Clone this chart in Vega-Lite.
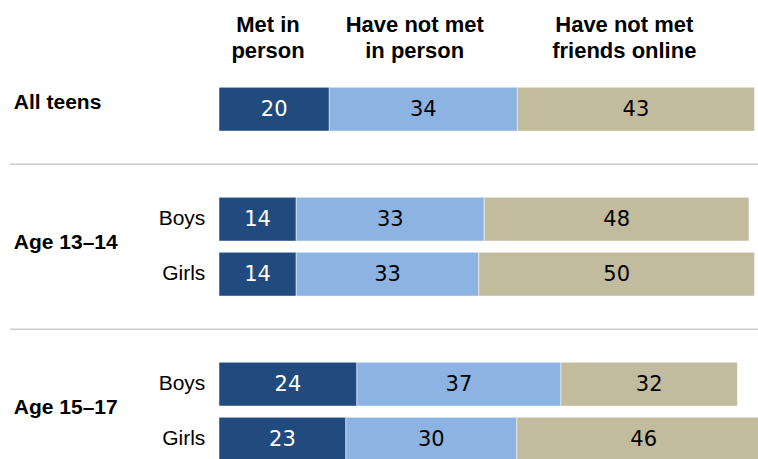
{
  "$schema": "https://vega.github.io/schema/vega-lite/v6.json",
  "autosize": "none",
  "width": 551.5,
  "height": 385,
  "padding": {"left": 219, "top": 81.7, "right": 0, "bottom": 0},
  "background": "white",
  "config": {"view": {"stroke": null}, "font": "Liberation Sans"},
  "datasets": {
    "bars": [
      {"row": "All teens", "group": "All teens", "sub": "", "category": "Met in person", "value": 20, "label": 20},
      {"row": "All teens", "group": "All teens", "sub": "", "category": "Have not met in person", "value": 34.1, "label": 34},
      {"row": "All teens", "group": "All teens", "sub": "", "category": "Have not met friends online", "value": 43, "label": 43},
      {"row": "Age 13–14 Boys", "group": "Age 13–14", "sub": "Boys", "category": "Met in person", "value": 14, "label": 14},
      {"row": "Age 13–14 Boys", "group": "Age 13–14", "sub": "Boys", "category": "Have not met in person", "value": 34.1, "label": 33},
      {"row": "Age 13–14 Boys", "group": "Age 13–14", "sub": "Boys", "category": "Have not met friends online", "value": 48, "label": 48},
      {"row": "Age 13–14 Girls", "group": "Age 13–14", "sub": "Girls", "category": "Met in person", "value": 14, "label": 14},
      {"row": "Age 13–14 Girls", "group": "Age 13–14", "sub": "Girls", "category": "Have not met in person", "value": 33.1, "label": 33},
      {"row": "Age 13–14 Girls", "group": "Age 13–14", "sub": "Girls", "category": "Have not met friends online", "value": 50, "label": 50},
      {"row": "Age 15–17 Boys", "group": "Age 15–17", "sub": "Boys", "category": "Met in person", "value": 25, "label": 24},
      {"row": "Age 15–17 Boys", "group": "Age 15–17", "sub": "Boys", "category": "Have not met in person", "value": 37, "label": 37},
      {"row": "Age 15–17 Boys", "group": "Age 15–17", "sub": "Boys", "category": "Have not met friends online", "value": 32, "label": 32},
      {"row": "Age 15–17 Girls", "group": "Age 15–17", "sub": "Girls", "category": "Met in person", "value": 23, "label": 23},
      {"row": "Age 15–17 Girls", "group": "Age 15–17", "sub": "Girls", "category": "Have not met in person", "value": 31, "label": 30},
      {"row": "Age 15–17 Girls", "group": "Age 15–17", "sub": "Girls", "category": "Have not met friends online", "value": 46, "label": 46}
    ],
    "separators": [{"row": "gap1"}, {"row": "gap2"}]
  },
  "encoding": {
    "y": {
      "field": "row",
      "type": "nominal",
      "scale": {
        "domain": ["All teens", "gap1", "Age 13–14 Boys", "Age 13–14 Girls", "gap2", "Age 15–17 Boys", "Age 15–17 Girls"],
        "paddingInner": 0.205,
        "paddingOuter": 0.1025
      },
      "axis": null
    }
  },
  "layer": [
    {
      "data": {"name": "separators"},
      "mark": {"type": "rule", "color": "#cccccc", "strokeWidth": 1.5},
      "encoding": {
        "x": {"datum": -37.9, "type": "quantitative", "scale": {"domain": [0, 100], "nice": false}},
        "x2": {"datum": 100}
      }
    },
    {
      "data": {"name": "bars"},
      "mark": {"type": "bar", "stroke": "#ffffff", "strokeWidth": 0.5},
      "encoding": {
        "x": {
          "field": "value",
          "type": "quantitative",
          "stack": "zero",
          "scale": {"domain": [0, 100], "nice": false},
          "axis": {
            "orient": "top",
            "values": [8.8, 35.4, 73.4],
            "labelExpr": "datum.value < 20 ? ['Met in', 'person'] : datum.value < 50 ? ['Have not met', 'in person'] : ['Have not met', 'friends online']",
            "domain": false,
            "ticks": false,
            "grid": false,
            "title": null,
            "labelFont": "Liberation Sans",
            "labelFontWeight": "bold",
            "labelFontSize": 22,
            "labelColor": "#000000",
            "labelPadding": 45,
            "labelBaseline": "bottom",
            "labelLineHeight": 26,
            "labelOverlap": false,
            "labelFlush": false
          }
        },
        "color": {
          "field": "category",
          "type": "nominal",
          "scale": {
            "domain": ["Met in person", "Have not met in person", "Have not met friends online"],
            "range": ["#214a7e", "#8db3e2", "#c2bb9d"]
          },
          "legend": null
        },
        "order": {"field": "category", "sort": "descending"}
      }
    },
    {
      "data": {"name": "bars"},
      "mark": {"type": "text", "font": "DejaVu Sans", "fontSize": 21, "baseline": "middle", "align": "center", "dy": 1},
      "encoding": {
        "x": {"field": "value", "type": "quantitative", "stack": "zero", "bandPosition": 0.5, "scale": {"domain": [0, 100], "nice": false}},
        "detail": {"field": "category", "type": "nominal"},
        "order": {"field": "category", "sort": "descending"},
        "text": {"field": "label", "type": "quantitative"},
        "color": {"condition": {"test": "datum.category === 'Met in person'", "value": "#ffffff"}, "value": "#000000"}
      }
    },
    {
      "data": {"name": "bars"},
      "transform": [{"filter": "datum.category === 'Met in person' && datum.sub !== ''"}],
      "mark": {"type": "text", "font": "Liberation Sans", "fontSize": 21, "baseline": "middle", "align": "right", "dx": -13.7, "color": "#000000"},
      "encoding": {
        "x": {"datum": 0, "type": "quantitative", "scale": {"domain": [0, 100], "nice": false}},
        "text": {"field": "sub", "type": "nominal"}
      }
    },
    {
      "data": {"name": "bars"},
      "transform": [{"filter": "datum.category === 'Met in person' && datum.group === 'All teens'"}],
      "mark": {"type": "text", "font": "Liberation Sans", "fontWeight": "bold", "fontSize": 21, "baseline": "middle", "align": "left", "dy": -6.5, "color": "#000000"},
      "encoding": {
        "x": {"datum": -37.2, "type": "quantitative", "scale": {"domain": [0, 100], "nice": false}},
        "text": {"field": "group", "type": "nominal"}
      }
    },
    {
      "data": {"name": "bars"},
      "transform": [{"filter": "datum.category === 'Met in person' && datum.sub === 'Boys'"}],
      "mark": {"type": "text", "font": "Liberation Sans", "fontWeight": "bold", "fontSize": 21, "baseline": "middle", "align": "left", "dy": 24, "color": "#000000"},
      "encoding": {
        "x": {"datum": -37.2, "type": "quantitative", "scale": {"domain": [0, 100], "nice": false}},
        "text": {"field": "group", "type": "nominal"}
      }
    }
  ]
}
